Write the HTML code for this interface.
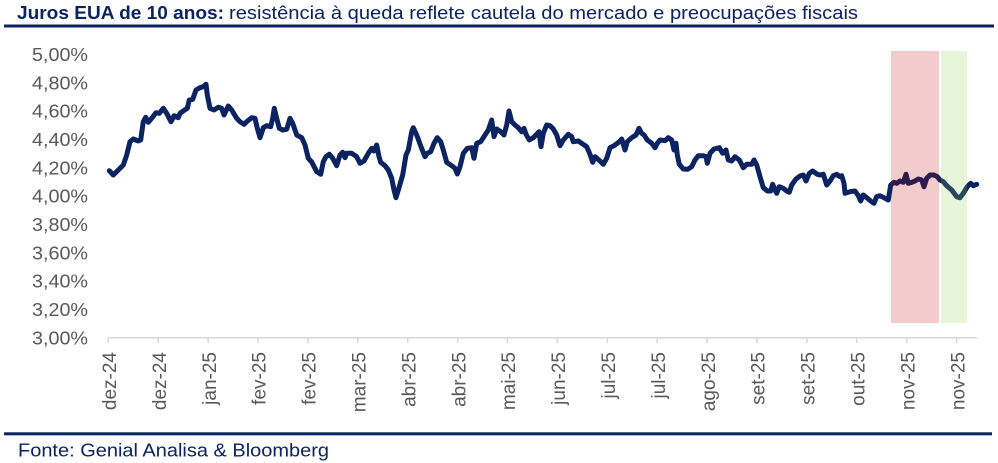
<!DOCTYPE html>
<html><head><meta charset="utf-8"><style>
html,body{margin:0;padding:0;background:#fff;}
svg{display:block;}
text{font-family:"Liberation Sans",Arial,sans-serif;}
</style></head><body>
<svg width="998" height="463" viewBox="0 0 998 463" xmlns="http://www.w3.org/2000/svg">
<rect width="998" height="463" fill="#fff"/>
<!-- title -->
<text x="17" y="19" font-size="18" font-weight="bold" fill="#0b2360" textLength="207" lengthAdjust="spacingAndGlyphs">Juros EUA de 10 anos:</text>
<text x="229" y="19" font-size="18" fill="#0b2360" textLength="629" lengthAdjust="spacingAndGlyphs">resistência à queda reflete cautela do mercado e preocupações fiscais</text>
<rect x="4" y="24.5" width="990" height="3" fill="#0b2360"/>
<!-- y labels -->
<g font-size="18" fill="#595959" text-anchor="end">
<text x="88" y="61" textLength="56" lengthAdjust="spacingAndGlyphs">5,00%</text>
<text x="88" y="89.3" textLength="56" lengthAdjust="spacingAndGlyphs">4,80%</text>
<text x="88" y="117.7" textLength="56" lengthAdjust="spacingAndGlyphs">4,60%</text>
<text x="88" y="146" textLength="56" lengthAdjust="spacingAndGlyphs">4,40%</text>
<text x="88" y="174.3" textLength="56" lengthAdjust="spacingAndGlyphs">4,20%</text>
<text x="88" y="202.7" textLength="56" lengthAdjust="spacingAndGlyphs">4,00%</text>
<text x="88" y="231" textLength="56" lengthAdjust="spacingAndGlyphs">3,80%</text>
<text x="88" y="259.3" textLength="56" lengthAdjust="spacingAndGlyphs">3,60%</text>
<text x="88" y="287.7" textLength="56" lengthAdjust="spacingAndGlyphs">3,40%</text>
<text x="88" y="316" textLength="56" lengthAdjust="spacingAndGlyphs">3,20%</text>
<text x="88" y="344.3" textLength="56" lengthAdjust="spacingAndGlyphs">3,00%</text>
</g>
<!-- x axis -->
<line x1="108" y1="337.7" x2="977" y2="337.7" stroke="#d9d9d9" stroke-width="1.5"/>
<g stroke="#d9d9d9" stroke-width="1.5">
<line x1="108.3" y1="337" x2="108.3" y2="343"/>
<line x1="158.2" y1="337" x2="158.2" y2="343"/>
<line x1="208.1" y1="337" x2="208.1" y2="343"/>
<line x1="258" y1="337" x2="258" y2="343"/>
<line x1="307.9" y1="337" x2="307.9" y2="343"/>
<line x1="357.8" y1="337" x2="357.8" y2="343"/>
<line x1="407.7" y1="337" x2="407.7" y2="343"/>
<line x1="457.6" y1="337" x2="457.6" y2="343"/>
<line x1="507.5" y1="337" x2="507.5" y2="343"/>
<line x1="557.4" y1="337" x2="557.4" y2="343"/>
<line x1="607.3" y1="337" x2="607.3" y2="343"/>
<line x1="657.2" y1="337" x2="657.2" y2="343"/>
<line x1="707.1" y1="337" x2="707.1" y2="343"/>
<line x1="757" y1="337" x2="757" y2="343"/>
<line x1="806.9" y1="337" x2="806.9" y2="343"/>
<line x1="856.8" y1="337" x2="856.8" y2="343"/>
<line x1="906.7" y1="337" x2="906.7" y2="343"/>
<line x1="956.6" y1="337" x2="956.6" y2="343"/>
</g>
<g font-size="19" fill="#595959" text-anchor="end">
<text transform="translate(116,352) rotate(-90)">dez-24</text>
<text transform="translate(165.9,352) rotate(-90)">dez-24</text>
<text transform="translate(215.8,352) rotate(-90)">jan-25</text>
<text transform="translate(265.7,352) rotate(-90)">fev-25</text>
<text transform="translate(315.6,352) rotate(-90)">fev-25</text>
<text transform="translate(365.5,352) rotate(-90)">mar-25</text>
<text transform="translate(415.4,352) rotate(-90)">abr-25</text>
<text transform="translate(465.3,352) rotate(-90)">abr-25</text>
<text transform="translate(515.2,352) rotate(-90)">mai-25</text>
<text transform="translate(565.1,352) rotate(-90)">jun-25</text>
<text transform="translate(615,352) rotate(-90)">jul-25</text>
<text transform="translate(664.9,352) rotate(-90)">jul-25</text>
<text transform="translate(714.8,352) rotate(-90)">ago-25</text>
<text transform="translate(764.7,352) rotate(-90)">set-25</text>
<text transform="translate(814.6,352) rotate(-90)">set-25</text>
<text transform="translate(864.5,352) rotate(-90)">out-25</text>
<text transform="translate(914.4,352) rotate(-90)">nov-25</text>
<text transform="translate(964.3,352) rotate(-90)">nov-25</text>
</g>
<!-- series -->
<polyline fill="none" stroke="#0b2360" stroke-width="5" stroke-linejoin="round" stroke-linecap="round" points="
109.3,170.7 113.3,175 118.3,170 123.3,165 126.7,155 130,141.7 133.3,139 138.3,141 140.7,140 143.3,121.7 145.7,117.3 148.3,122.3 151.7,118.3 156,112.7 159.3,113.3 163.3,108.3 166.7,113.3 171,121.7 174,115.7 178.3,117.7 180,113.3 185,109.7 187.3,108.3 189.3,100 192.7,99.3 196,90 200,87.7 203.3,86.7 206,84.3 207.3,95 210,108.3 214,110 218.3,107.3 221.7,108.3 224,115 228.3,106 231.7,110 236.7,118.3 240,121.7 244,124.3 246.7,121.7 251.7,117.7 255,118.3 257.3,128.3 260,137.7 263.3,127.7 266.7,125.7 270.7,126.7 272.7,118.3 274.3,108.3 276.7,118.3 279.3,128.3 282.7,130 286.7,129.3 290,118.3 292.7,123.3 296.7,135 301.7,137.7 305,145 308.3,158.3 311.7,162 316.7,171.7 320.7,174.3
323.3,161.7 326,156.7 329.3,154.3 332.7,158.3 336.7,165.7 340,155 342.7,152.3 345,157.7 346.7,153.3 351.7,153.3 356.7,156.7 360,163.3 364,161 368.3,153.3 371.7,148.3 374,151 376.7,145 379,156.7 380.7,162.3 385,165.7 388.3,170 391.7,178.3 394,190 396,197.7 398.3,190 402.7,175 406,155 408.3,150 411.7,131.7 413.3,127.7 416.7,135 421,146.7 425,156.7 427.3,153.3 430.7,151.7 434,143.3 437.3,137.7 440.7,141.7 443.3,150 446.7,162.3 451.7,165.7 455,168.3 457.3,174 460,166.7 463.3,153.3 467.3,148.3 471.7,147.7 474,158.3 476.7,143.3 480.7,141.7 485,135 488.3,130 491.7,120 494,136.7 496.7,129 500.7,131.7 504,135 506.7,125 509,111 511.7,121.7 515,125 518.3,127.7 521.7,131.7 524,128.3 526,134.3 529.3,140
533.3,137.7 536.7,134.3 539,131.7 541,146.7 543.3,133.3 546.7,125 550,125.7 553.3,129 556.7,135 560,145.7 563.3,140 568.3,134.3 571.7,136.7 573.3,141.7 578.3,141 581.7,143.3 586.7,146.7 590,154.3 592.7,162.3 595,156.7 600,161 603.3,164.3 606.7,158.3 610,147.7 614,145.7 619.3,141.7 621.7,139 625,150 627.3,141.7 631.7,137.7 636,135 639,128.3 641.7,133.3 644,135 647.3,140 651.7,143.3 655,147.7 657.3,143.3 660,140 665,140.7 668.3,137.7 671.7,140 674,150 676,143.3 677.3,155 679.3,164.3 683.3,169 687.7,169.3 691.7,166.7 695,160 698.3,155.7 703.3,155.7 706,156.7 707.3,163.3 710,153.3 714,149 719.3,147.7 722.7,153.3 726,150 728.3,160 731.7,161 735,156.7 739.3,160
743.3,167.7 746.7,164.3 751.7,164.3 754,160 756.7,165 760,176.7 763.3,187.7 767.3,191 770.7,191 772.7,184.3 775,190 776.7,193.3 779.3,186.7 783.3,188.3 786.7,191 789.3,192.3 791.7,185 796,179 800,176 803.3,175 806,181 809.3,173.3 812.7,171 817.3,174.3 820,175 823.3,174.3 826.7,185 830,181 833.3,175.7 836.7,174.3 840,176.7 841.7,175.7 844,183.3 845,193.3 850,191.7 855,191 858.3,195.7 860.7,201 863.3,195 866.7,197.7 870.7,201 874,203.3 876.7,196.7 880,195.7 884,197.7 888.3,200 890.7,185 894,182.3 896.7,183.3 900,181 903.3,182.3 906,174.3 908.3,183.3 911.7,182.3 915,181 918.3,179 921.7,180 924,186.7 926.7,178.3 930,175 934,175 937.3,176.7 940,180 943.3,181.7 946.7,185.7 951.7,190 956.7,196.7 960,197.7 963.3,193.3 967.3,186.7 970.7,183.3 973.3,185.7 976.7,184.3"/>
<!-- shaded regions -->
<rect x="891" y="51" width="48" height="272" fill="rgb(192,0,0)" fill-opacity="0.2"/>
<rect x="941" y="51" width="26" height="272" fill="rgb(146,208,80)" fill-opacity="0.22"/>
<!-- footer -->
<rect x="4" y="432.3" width="988" height="3" fill="#0b2360"/>
<text x="18" y="456.5" font-size="18" fill="#0b2360" textLength="311" lengthAdjust="spacingAndGlyphs">Fonte: Genial Analisa &amp; Bloomberg</text>
</svg>
</body></html>
